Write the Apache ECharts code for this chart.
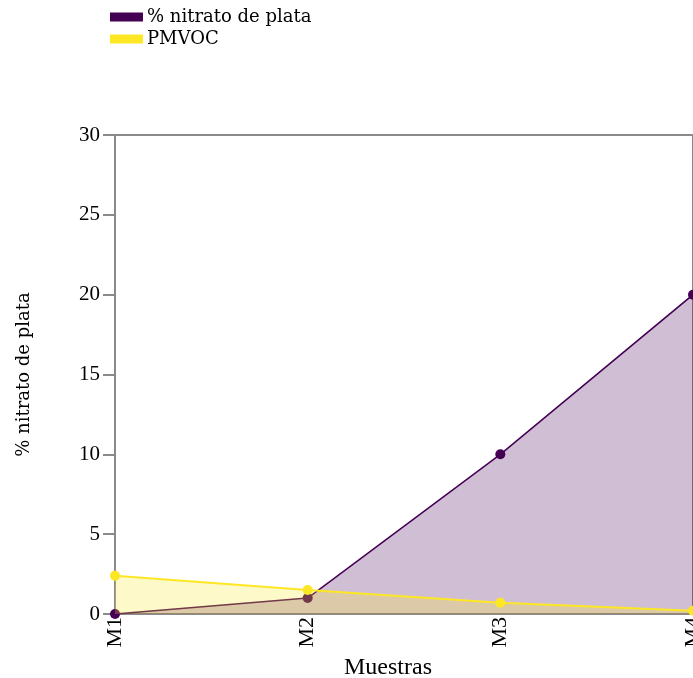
<!DOCTYPE html>
<html><head><meta charset="utf-8">
<script src="https://cdn.jsdelivr.net/npm/echarts@6/dist/echarts.min.js"></script>
<style>html,body{margin:0;padding:0;background:#fff}#c{width:693px;height:678px}</style>
</head><body><div id="c"></div>
<script>
const categories = ['M1', 'M2', 'M3', 'M4'];
const nitrato = [0, 1, 10, 20];
const pmvoc = [2.4, 1.5, 0.7, 0.2];
const yTicks = [0, 5, 10, 15, 20, 25, 30];
const seriesNames = ['% nitrato de plata', 'PMVOC'];
const FONT = 'Liberation Serif';
const FONT2 = 'DejaVu Serif';
const chart = echarts.init(document.getElementById('c'), null, {renderer: 'canvas'});
chart.setOption({
  animation: false,
  backgroundColor: '#fff',
  textStyle: {fontFamily: FONT, color: '#000'},
  legend: {
    orient: 'vertical', left: 110, top: 8, itemGap: 4, padding: 0,
    itemWidth: 33, itemHeight: 9, icon: 'rect',
    textStyle: {fontFamily: FONT2, fontSize: 18, color: '#000', padding: [0, 0, 0, -1]},
    data: seriesNames
  },
  grid: {left: 115, right: 0, top: 135, bottom: 64, show: true, borderColor: '#8a8a8a', borderWidth: 2,
         containLabel: false, outerBoundsMode: 'none'},
  xAxis: {
    type: 'category', data: categories, boundaryGap: false,
    name: 'Muestras', nameLocation: 'middle', nameGap: 42,
    nameTextStyle: {fontFamily: FONT, fontSize: 24, color: '#000', padding: [0, 32, 0, 0]},
    axisLine: {lineStyle: {color: '#8a8a8a', width: 2}},
    axisTick: {show: false},
    axisLabel: {rotate: 90, fontFamily: FONT, fontSize: 22, color: '#000', margin: 3},
    splitLine: {show: false}
  },
  yAxis: {
    type: 'value', min: 0, max: 30, interval: 5,
    name: '% nitrato de plata', nameLocation: 'middle', nameGap: 82, nameRotate: 90,
    nameTextStyle: {fontFamily: FONT2, fontSize: 18, color: '#000'},
    axisLine: {show: true, lineStyle: {color: '#8a8a8a', width: 2}},
    axisTick: {show: true, length: 12, lineStyle: {color: '#8a8a8a', width: 2}},
    axisLabel: {fontFamily: FONT, fontSize: 21, color: '#000', margin: 15,
      formatter: v => yTicks.includes(v) ? String(v) : ''},
    splitLine: {show: false}
  },
  series: [
    {name: seriesNames[0], type: 'line', data: nitrato, symbol: 'circle', symbolSize: 10,
     itemStyle: {color: '#440154'}, lineStyle: {color: '#440154', width: 1.5},
     areaStyle: {color: '#440154', opacity: 0.25}, z: 2},
    {name: seriesNames[1], type: 'line', data: pmvoc, symbol: 'circle', symbolSize: 10,
     itemStyle: {color: '#FDE725'}, lineStyle: {color: '#FDE725', width: 2},
     areaStyle: {color: '#FDE725', opacity: 0.25}, z: 3}
  ]
});
</script></body></html>
